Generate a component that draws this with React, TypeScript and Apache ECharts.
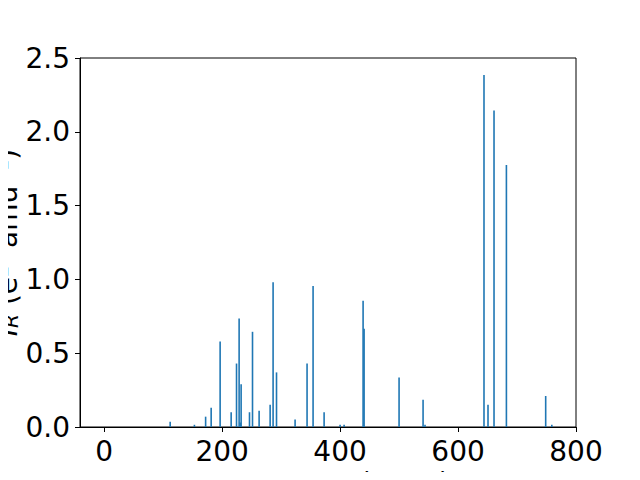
import React, { useEffect, useRef } from "react";
import * as echarts from "echarts";

const frequencies = [
  111.9, 153, 172, 181.4, 196.6, 215.3, 224.4, 228.8, 230.5, 232.2, 246.4,
  251.5, 262.7, 281.4, 286.4, 292.2, 323.7, 344, 354.2, 372.9, 400, 406.8,
  439, 440.7, 500, 540.7, 544, 644, 650.8, 661, 682, 748.6, 759,
];
const intensities = [
  0.035, 0.015, 0.07, 0.13, 0.58, 0.1, 0.43, 0.735, 0.03, 0.29, 0.1, 0.645,
  0.11, 0.15, 0.98, 0.37, 0.05, 0.43, 0.955, 0.1, 0.015, 0.015, 0.855, 0.665,
  0.335, 0.185, 0.015, 2.385, 0.15, 2.145, 1.775, 0.21, 0.015,
];
const xTicks = [0, 200, 400, 600, 800];
const xTitle = "Frequency (cm⁻¹)";

const FONT = "DejaVu Sans";
const FS = 28;

export default function App() {
  const ref = useRef<HTMLDivElement>(null);
  useEffect(() => {
    if (!ref.current) return;
    const chart = echarts.init(ref.current, null, { renderer: "svg" });
    const data = frequencies.map((f, i) => [f, intensities[i]]);
    chart.setOption({
      animation: false,
      grid: {
        left: 80,
        right: 64,
        top: 58,
        bottom: 53,
        containLabel: false,
        outerBoundsMode: "none",
        show: true,
        borderColor: "#000",
        borderWidth: 1,
        backgroundColor: "transparent",
      },
      graphic: [
        {
          type: "text",
          x: 328,
          y: 469,
          style: {
            text: xTitle,
            fontFamily: FONT,
            fontSize: FS,
            fill: "#000",
            align: "center",
            verticalAlign: "top",
          },
        },
      ],
      xAxis: {
        type: "value",
        min: -41,
        max: 800,
        axisLine: { show: true, onZero: false, lineStyle: { color: "#000", width: 1 } },
        axisTick: {
          show: true,
          length: 5,
          customValues: xTicks,
          lineStyle: { color: "#000", width: 1 },
        },
        axisLabel: {
          customValues: xTicks,
          margin: 10,
          fontFamily: FONT,
          fontSize: FS,
          color: "#000",
        },
        splitLine: { show: false },
      },
      yAxis: {
        type: "value",
        min: 0,
        max: 2.5,
        interval: 0.5,
        name: "{it|I}{sub|R}{n| (e²  amu⁻¹)}",
        nameLocation: "middle",
        nameGap: 59,
        nameMoveOverlap: false,
        nameTextStyle: {
          fontFamily: FONT,
          fontSize: FS,
          lineHeight: 28,
          color: "#000",
          rich: {
            it: { fontFamily: FONT, fontSize: FS, lineHeight: 28, fontStyle: "italic", color: "#000" },
            sub: {
              fontFamily: FONT,
              fontSize: 20,
              lineHeight: 28,
              fontStyle: "italic",
              color: "#000",
              verticalAlign: "bottom",
            },
            n: { fontFamily: FONT, fontSize: FS, lineHeight: 28, color: "#000" },
          },
        },
        axisLine: { show: true, onZero: false, lineStyle: { color: "#000", width: 1 } },
        axisTick: { show: true, length: 5, lineStyle: { color: "#000", width: 1 } },
        axisLabel: {
          margin: 10,
          fontFamily: FONT,
          fontSize: FS,
          color: "#000",
          formatter: (v: number) => v.toFixed(1),
        },
        splitLine: { show: false },
      },
      series: [
        {
          type: "bar",
          data,
          barWidth: 1.6,
          itemStyle: { color: "#1f77b4" },
        },
      ],
    });
    return () => chart.dispose();
  }, []);
  return <div ref={ref} style={{ width: 640, height: 480, margin: -8 }} />;
}
